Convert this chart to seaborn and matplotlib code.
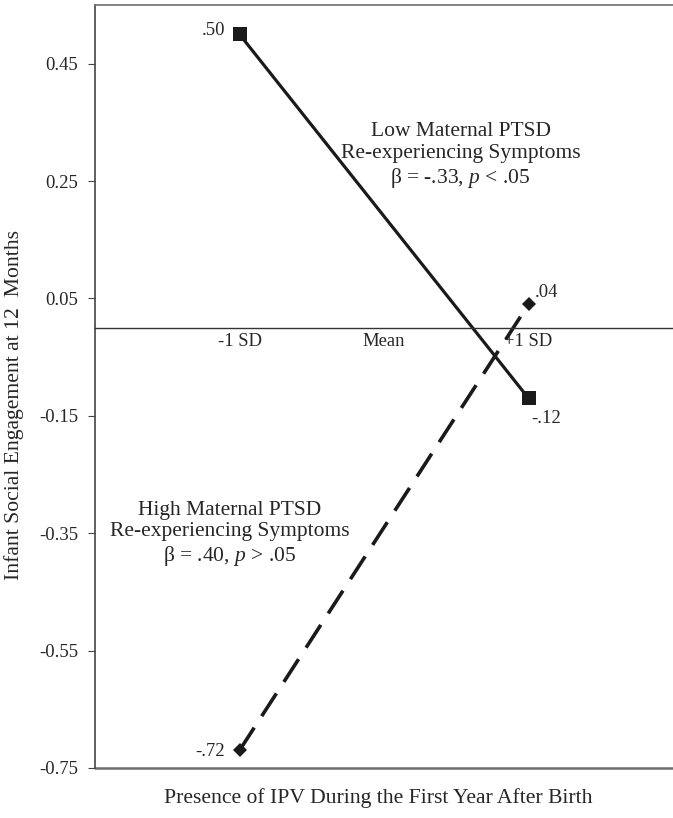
import matplotlib
matplotlib.use("Agg")
import matplotlib.pyplot as plt
import seaborn as sns
import pandas as pd

# Data
categories = ["-1 SD", "Mean", "+1 SD"]
cat_pos = [1, 2, 3]
low_x = [1, 3]
low_y = [0.50, -0.12]
high_x = [1, 3]
high_y = [-0.72, 0.04]
low_labels = [".50", "-.12"]
high_labels = ["-.72", ".04"]
yticks = [0.45, 0.25, 0.05, -0.15, -0.35, -0.55, -0.75]
ytick_labels = ["0.45", "0.25", "0.05", "-0.15", "-0.35", "-0.55", "-0.75"]

sns.set_theme(style="white")
plt.rcParams["font.family"] = ["Liberation Serif", "DejaVu Serif"]
plt.rcParams["mathtext.fontset"] = "custom"
plt.rcParams["mathtext.rm"] = "Liberation Serif"
plt.rcParams["mathtext.it"] = "Liberation Serif:italic"

fig = plt.figure(figsize=(6.73, 8.18), dpi=100)
ax = fig.add_axes([95 / 673, 50 / 818, 578 / 673, 763 / 818])

df_low = pd.DataFrame({"x": low_x, "y": low_y})
df_high = pd.DataFrame({"x": high_x, "y": high_y})

sns.lineplot(data=df_low, x="x", y="y", ax=ax, color="#1a1a1a", linewidth=2.3,
             marker="s", markersize=10, markeredgewidth=0, markerfacecolor="#1a1a1a")
sns.lineplot(data=df_high, x="x", y="y", ax=ax, color="#1a1a1a", linewidth=2.6,
             marker="D", markersize=7.5, markeredgewidth=0, markerfacecolor="#1a1a1a")
ax.lines[-1].set_dashes([7.5, 3.8])

ax.set_xlim(0, 4)
ax.set_ylim(-0.75, 0.55)

# spines
frame_col = "#6e6e6e"
ax.spines["right"].set_visible(False)
ax.spines["top"].set_color(frame_col)
ax.spines["top"].set_linewidth(1.2)
ax.spines["left"].set_color("#444444")
ax.spines["left"].set_linewidth(1.2)
ax.spines["bottom"].set_position(("data", 0))
ax.spines["bottom"].set_color("#333333")
ax.spines["bottom"].set_linewidth(1.0)
ax.axhline(-0.75, color=frame_col, linewidth=1.8, clip_on=False)

ax.set_xticks(cat_pos)
ax.set_xticklabels(categories, fontsize=13.4)
ax.tick_params(axis="x", direction="in", length=4, width=0.8, color="#555555", pad=4)
ax.set_yticks(yticks)
ax.set_yticklabels(ytick_labels, fontsize=13.4)
ax.tick_params(axis="y", direction="out", length=5, width=0.8, color="#444444", pad=7, left=True)

ax.set_xlabel("Presence of IPV During the First Year After Birth", fontsize=15.6)
ax.xaxis.set_label_coords(0.49, -0.026)
ax.set_ylabel("Infant Social Engagement at 12  Months", fontsize=15.6)
ax.yaxis.set_label_coords(-0.122, 0.476)

# point labels
ax.text(low_x[0] - 0.1, low_y[0] + 0.007, low_labels[0], ha="right", va="center", fontsize=13.4)
ax.text(low_x[1] + 0.02, low_y[1] - 0.035, low_labels[1], ha="left", va="center", fontsize=13.4)
ax.text(high_x[0] - 0.1, high_y[0] - 0.002, high_labels[0], ha="right", va="center", fontsize=13.4)
ax.text(high_x[1] + 0.04, high_y[1] + 0.02, high_labels[1], ha="left", va="center", fontsize=13.4)

# annotations
ax.text(2.53, 0.293, "Low Maternal PTSD\nRe-experiencing Symptoms\n" + r"β = -.33, $p$ < .05",
        ha="center", va="center", fontsize=15.5, linespacing=1.18)
ax.text(0.93, -0.352, "High Maternal PTSD\nRe-experiencing Symptoms\n" + r"β = .40, $p$ > .05",
        ha="center", va="center", fontsize=15.5, linespacing=1.18)

fig.savefig("out.png", dpi=100)
